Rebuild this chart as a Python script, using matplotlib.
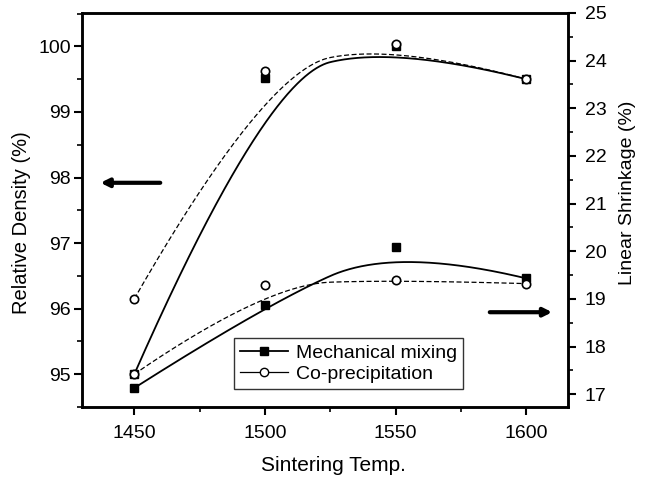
import numpy as np
import matplotlib
matplotlib.use("Agg")
import matplotlib.pyplot as plt
from matplotlib.lines import Line2D

plt.rcParams["font.family"] = ["Liberation Sans", "DejaVu Sans"]

# ── data ──
temps = [1450, 1500, 1550, 1600]

density_mech = [95.0, 99.52, 100.0, 99.5]
density_copr = [96.15, 99.63, 100.03, 99.5]

shrink_mech = [17.13, 18.87, 20.09, 19.43]
shrink_copr = [17.42, 19.30, 19.40, 19.32]


def bspline2(xs, ys, n=200):
    """Clamped quadratic B-spline using the points as control points
    (Origin-style 'B-Spline' connection)."""
    P = np.column_stack([xs, ys]).astype(float)
    mids = (P[1:-1][:-1] + P[1:-1][1:]) / 2
    starts = np.vstack([P[:1], mids])
    ends = np.vstack([mids, P[-1:]])
    ctrl = P[1:-1]
    s = np.linspace(0, 1, n)[:, None]
    out = []
    for a, c, b in zip(starts, ctrl, ends):
        out.append((1 - s) ** 2 * a + 2 * s * (1 - s) * c + s ** 2 * b)
    pts = np.vstack(out)
    return pts[:, 0], pts[:, 1]


fig = plt.figure(figsize=(6.52, 4.8), dpi=100)
ax = fig.add_axes([0.1258, 0.152, 0.7454, 0.821])
ax2 = ax.twinx()

solid = dict(color="black", lw=1.3, ls="-")
dashed = dict(color="black", lw=0.9, ls=(0, (4, 2)))

# density (left axis)
ax.plot(*bspline2(temps, density_mech), **solid)
ax.plot(*bspline2(temps, density_copr), **dashed)
ax.plot(temps, density_mech, ls="none", marker="s", ms=6, mfc="black", mec="black")
ax.plot(temps, density_copr, ls="none", marker="o", ms=6, mfc="white", mec="black", mew=1.2)

# shrinkage (right axis)
ax2.plot(*bspline2(temps, shrink_mech), **solid)
ax2.plot(*bspline2(temps, shrink_copr), **dashed)
ax2.plot(temps, shrink_mech, ls="none", marker="s", ms=6, mfc="black", mec="black")
ax2.plot(temps, shrink_copr, ls="none", marker="o", ms=6, mfc="white", mec="black", mew=1.2)

ax.set_xlim(1430, 1616)
ax.set_ylim(94.5, 100.51)
ax2.set_ylim(16.73, 25)

ax.set_xticks([1450, 1500, 1550, 1600])
ax.set_xticks([1475, 1525, 1575], minor=True)
ax.set_yticks([95, 96, 97, 98, 99, 100])
ax.set_yticks(np.arange(94.5, 100.6, 0.5), minor=True)
ax2.set_yticks(range(17, 26))
ax2.set_yticks(np.arange(17.5, 25, 1.0), minor=True)

for a in (ax, ax2):
    for sp in a.spines.values():
        sp.set_linewidth(1.8)
    a.tick_params(which="major", direction="out", length=6, width=1.5, labelsize=14)
    a.tick_params(which="minor", direction="out", length=3.5, width=1.2)
ax.tick_params(axis="x", which="both", top=False)
ax.tick_params(axis="x", pad=7)
ax.tick_params(axis="y", pad=2)
ax2.tick_params(axis="y", pad=6)

ax.set_xlabel("Sintering Temp.", fontsize=15, labelpad=10)
ax.set_ylabel("Relative Density (%)", fontsize=14.5, labelpad=5)
ax2.set_ylabel("Linear Shrinkage (%)", fontsize=14, labelpad=9)
ax.xaxis.label.set_x(0.518)
ax.yaxis.label.set_y(0.467)
ax2.yaxis.label.set_y(0.543)

# arrows pointing to the corresponding axis
ax.annotate("", xy=(1436, 97.92), xytext=(1461, 97.92),
            arrowprops=dict(arrowstyle="-|>", lw=3, color="black", mutation_scale=12))
ax2.annotate("", xy=(1611, 18.72), xytext=(1585, 18.72),
             arrowprops=dict(arrowstyle="-|>", lw=3, color="black", mutation_scale=12))

handles = [
    Line2D([], [], color="black", lw=1.3, marker="s", ms=6, mfc="black"),
    Line2D([], [], color="black", lw=0.9, marker="o", ms=6, mfc="white"),
]
leg = ax2.legend(handles, ["Mechanical mixing", "Co-precipitation"],
                 loc="lower left", bbox_to_anchor=(234 / 652, (480 - 389) / 480),
                 bbox_transform=fig.transFigure, fontsize=14, frameon=True,
                 fancybox=False, borderpad=0.3, handlelength=2.5,
                 handletextpad=0.4, labelspacing=0.2, borderaxespad=0)
leg.get_frame().set_edgecolor("black")
leg.get_frame().set_linewidth(1.0)

fig.savefig("out.png", dpi=100)
